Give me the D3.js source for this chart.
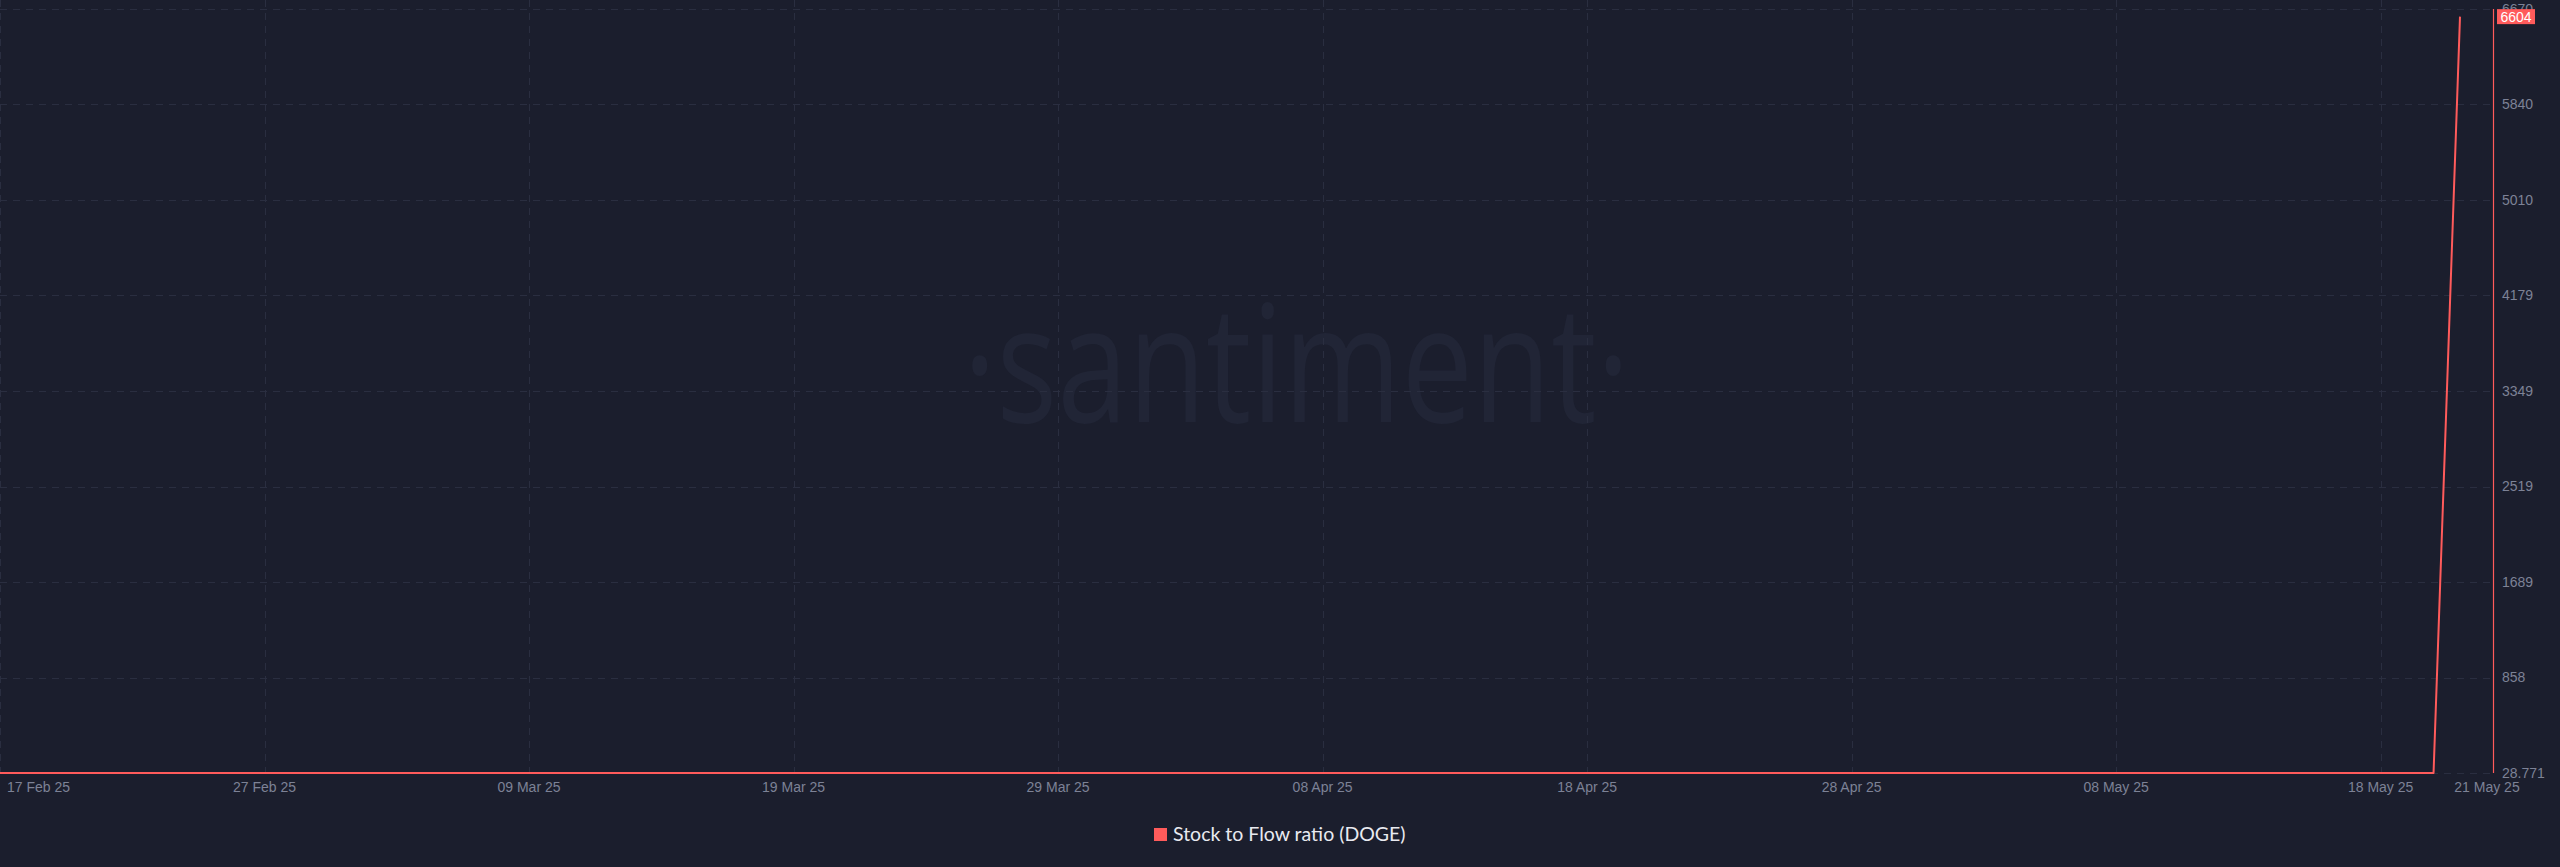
<!DOCTYPE html>
<html>
<head>
<meta charset="utf-8">
<script src="https://cdn.jsdelivr.net/npm/d3@7/dist/d3.min.js"></script>
<style>
  html, body { margin: 0; padding: 0; background: #1b1e2d; }
  svg { display: block; }
</style>
</head>
<body>
<svg id="chart" width="2560" height="867"></svg>
<script>
// ---------- data ----------
const startDate = "2025-02-17";
const sfValues = [
  28.95, 28.94, 28.93, 28.93, 28.92, 28.91, 28.91, 28.90, 28.90, 28.89,
  28.89, 28.88, 28.88, 28.87, 28.87, 28.86, 28.86, 28.86, 28.85, 28.85,
  28.85, 28.84, 28.84, 28.84, 28.83, 28.83, 28.83, 28.82, 28.82, 28.82,
  28.82, 28.81, 28.81, 28.81, 28.81, 28.80, 28.80, 28.80, 28.80, 28.80,
  28.79, 28.79, 28.79, 28.79, 28.79, 28.79, 28.78, 28.78, 28.78, 28.78,
  28.78, 28.78, 28.78, 28.78, 28.78, 28.777, 28.777, 28.777, 28.776, 28.776,
  28.776, 28.775, 28.775, 28.775, 28.775, 28.774, 28.774, 28.774, 28.774, 28.774,
  28.773, 28.773, 28.773, 28.773, 28.773, 28.773, 28.772, 28.772, 28.772, 28.772,
  28.772, 28.772, 28.772, 28.772, 28.771, 28.771, 28.771, 28.771, 28.771, 28.771,
  28.771, 28.771, 28.771, 6604
];
const seriesName = "Stock to Flow ratio (DOGE)";
const lastLabel = "6604";
const yTickValues = [28.771, 858.9, 1689.1, 2519.3, 3349.5, 4179.8, 5010.0, 5840.2, 6670.4];
const yTickLabels = ["28.771", "858", "1689", "2519", "3349", "4179", "5010", "5840", "6670"];
const xTickDates = ["2025-02-17", "2025-02-27", "2025-03-09", "2025-03-19", "2025-03-29",
  "2025-04-08", "2025-04-18", "2025-04-28", "2025-05-08", "2025-05-18", "2025-05-21"];
const xTickLabels = ["17 Feb 25", "27 Feb 25", "09 Mar 25", "19 Mar 25", "29 Mar 25",
  "08 Apr 25", "18 Apr 25", "28 Apr 25", "08 May 25", "18 May 25", "21 May 25"];

// ---------- setup ----------
const parse = d3.utcParse("%Y-%m-%d");
const t0 = parse(startDate);
const data = sfValues.map((v, i) => ({ date: d3.utcDay.offset(t0, i), value: v }));

const RED = "#ff5b5b";
const GRID = "#2a2e40";
const AXIS_TXT = "#7d8296";
const plotLeft = 0, plotRight = 2493, plotTop = 9, plotBottom = 773;

const svg = d3.select("#chart");
svg.append("rect").attr("width", 2560).attr("height", 867).attr("fill", "#1b1e2d");

const x = d3.scaleUtc()
  .domain([t0, data[data.length - 1].date])
  .range([0, 2460]);
const y = d3.scaleLinear()
  .domain([yTickValues[0], yTickValues[yTickValues.length - 1]])
  .range([plotBottom, plotTop]);

// watermark
svg.append("text")
  .attr("x", 963).attr("y", 422)
  .attr("textLength", 667).attr("lengthAdjust", "spacingAndGlyphs")
  .attr("font-family", "'Open Sans', sans-serif")
  .attr("font-size", 163)
  .attr("fill", "#212536")
  .text("\u00B7santiment\u00B7");

// horizontal grid
const gy = svg.append("g");
yTickValues.forEach(v => {
  gy.append("line")
    .attr("x1", plotLeft).attr("x2", plotRight)
    .attr("y1", Math.round(y(v)) + 0.5).attr("y2", Math.round(y(v)) + 0.5)
    .attr("stroke", GRID).attr("stroke-width", 1).attr("stroke-dasharray", "7,6");
});
// vertical grid
const gx = svg.append("g");
xTickDates.slice(0, -1).forEach(d => {
  const px = Math.round(x(parse(d))) + 0.5;
  gx.append("line")
    .attr("x1", px).attr("x2", px)
    .attr("y1", 0).attr("y2", plotBottom)
    .attr("stroke", GRID).attr("stroke-width", 1).attr("stroke-dasharray", "7,6");
});

// y-axis labels
const yAxis = svg.append("g").attr("transform", `translate(${plotRight},0)`)
  .call(d3.axisRight(y).tickValues(yTickValues).tickSize(0).tickPadding(9)
    .tickFormat((d, i) => yTickLabels[i]));
yAxis.select(".domain").remove();
yAxis.selectAll("text")
  .attr("fill", AXIS_TXT).attr("font-size", 14)
  .attr("font-family", "'Liberation Sans', Arial, sans-serif");

// y-axis line (red, series colour)
svg.append("line")
  .attr("x1", plotRight + 0.5).attr("x2", plotRight + 0.5)
  .attr("y1", plotTop).attr("y2", plotBottom)
  .attr("stroke", RED).attr("stroke-width", 1.2);

// x-axis labels
const xl = svg.append("g");
xTickDates.forEach((d, i) => {
  let px = x(parse(d));
  let anchor = "middle";
  if (i === 0) { px = 7; anchor = "start"; }
  if (i === xTickDates.length - 1) { px = px + 27; }
  xl.append("text")
    .attr("x", px).attr("y", 792)
    .attr("text-anchor", anchor)
    .attr("fill", AXIS_TXT).attr("font-size", 14)
    .attr("font-family", "'Liberation Sans', Arial, sans-serif")
    .text(xTickLabels[i]);
});

// series line
const line = d3.line().x(d => x(d.date)).y(d => y(d.value));
svg.append("path").datum(data)
  .attr("d", line)
  .attr("fill", "none")
  .attr("stroke", RED).attr("stroke-width", 2)
  .attr("stroke-linejoin", "round");

// last value label
const lastY = y(sfValues[sfValues.length - 1]);
svg.append("rect")
  .attr("x", plotRight + 4).attr("y", lastY - 7.5)
  .attr("width", 38).attr("height", 15)
  .attr("fill", RED);
svg.append("text")
  .attr("x", plotRight + 23).attr("y", lastY + 5)
  .attr("text-anchor", "middle")
  .attr("fill", "#ffffff").attr("font-size", 14)
  .attr("font-family", "'Liberation Sans', Arial, sans-serif")
  .text(lastLabel);

// legend
svg.append("rect")
  .attr("x", 1154).attr("y", 828).attr("width", 13).attr("height", 13)
  .attr("fill", RED);
svg.append("text")
  .attr("x", 1173).attr("y", 841)
  .attr("fill", "#e9eaf0").attr("font-size", 19.5)
  .attr("font-family", "Lato, 'Open Sans', sans-serif")
  .text(seriesName);
</script>
</body>
</html>
